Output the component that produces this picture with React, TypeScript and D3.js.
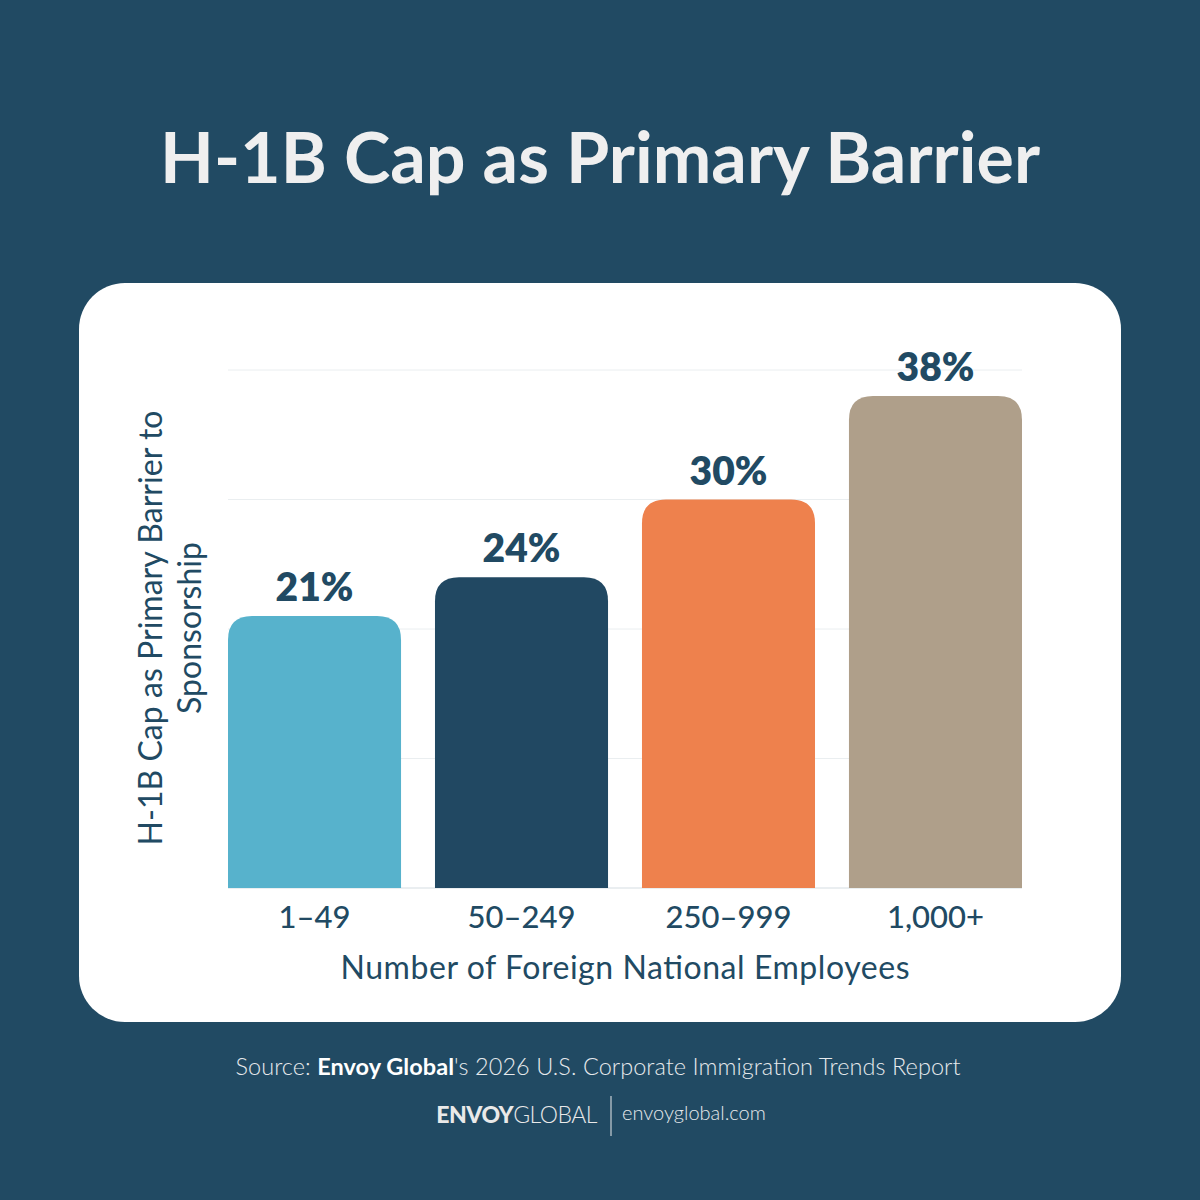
import React from "react";
import * as d3 from "d3";

const categories = ["1–49", "50–249", "250–999", "1,000+"];
const values = [21, 24, 30, 38];
const barColors = ["#57b2cc", "#214862", "#ee814d", "#af9f8a"];
const yTicks = [0, 10, 20, 30, 40];

const W = 1200;
const H = 1200;
const BG = "#214a63";
const NAVY = "#214a63";
const FONT = "Lato, 'Open Sans', sans-serif";

const plot = { left: 228, right: 1022, top: 370, bottom: 888 };

function topRoundedBar(x: number, y: number, w: number, h: number, r: number) {
  const rr = Math.min(r, h, w / 2);
  return `M${x},${y + h}V${y + rr}Q${x},${y} ${x + rr},${y}H${x + w - rr}Q${x + w},${y} ${x + w},${y + rr}V${y + h}Z`;
}

export default function App() {
  const x = d3
    .scaleBand<string>()
    .domain(categories)
    .range([plot.left, plot.right])
    .paddingInner(0.164)
    .paddingOuter(0);
  const y = d3.scaleLinear().domain([0, 40]).range([plot.bottom, plot.top]);

  return (
    <svg width={W} height={H} style={{ display: "block", position: "absolute", left: 0, top: 0 }}>
      <rect x={0} y={0} width={W} height={H} fill={BG} />
      <text
        x={600}
        y={183}
        textAnchor="middle"
        fontFamily={FONT}
        fontWeight={700}
        fontSize={70}
        fill="#efefef"
        textLength={880}
        lengthAdjust="spacing"
      >
        H-1B Cap as Primary Barrier
      </text>

      <rect x={79} y={283} width={1042} height={739} rx={46} ry={46} fill="#ffffff" />

      {yTicks.map((t) => (
        <line
          key={t}
          x1={plot.left}
          x2={plot.right}
          y1={y(t)}
          y2={y(t)}
          stroke={t === 0 ? "#d5dde2" : "#eaeef0"}
          strokeWidth={1}
        />
      ))}

      {categories.map((c, i) => {
        const bx = x(c)!;
        const by = y(values[i]);
        const bw = x.bandwidth();
        return (
          <g key={c}>
            <path d={topRoundedBar(bx, by, bw, plot.bottom - by, 24)} fill={barColors[i]} />
            <text
              x={bx + bw / 2}
              y={by - 15}
              textAnchor="middle"
              fontFamily={FONT}
              fontWeight={800}
              fontSize={39}
              fill={NAVY}
            >
              {values[i]}%
            </text>
            <text
              x={bx + bw / 2}
              y={928}
              textAnchor="middle"
              fontFamily={FONT}
              fontWeight={500}
              fontSize={31}
              fill={NAVY}
            >
              {c}
            </text>
          </g>
        );
      })}

      <text
        x={(plot.left + plot.right) / 2}
        y={979}
        textAnchor="middle"
        fontFamily={FONT}
        fontWeight={400}
        fontSize={32}
        fill={NAVY}
        textLength={569}
        lengthAdjust="spacing"
      >
        Number of Foreign National Employees
      </text>

      <g transform="translate(0,628) rotate(-90)" fontFamily={FONT} fontSize={32} fill={NAVY} textAnchor="middle">
        <text x={0} y={162} textLength={435} lengthAdjust="spacing">H-1B Cap as Primary Barrier to</text>
        <text x={0} y={201}>Sponsorship</text>
      </g>

      <text
        x={598}
        y={1075}
        textAnchor="middle"
        fontFamily={FONT}
        fontSize={23.5}
        fontWeight={300}
        fill="#e6e9ec"
        textLength={725}
        lengthAdjust="spacing"
      >
        Source: <tspan fontWeight={700} fill="#ffffff">Envoy Global</tspan>'s 2026 U.S. Corporate Immigration Trends Report
      </text>

      <text x={597} y={1123} textAnchor="end" fontFamily={FONT} fontSize={23} fill="#e9e9e9" letterSpacing={-0.5}>
        <tspan fontWeight={900}>ENVOY</tspan>
        <tspan fontWeight={300}>GLOBAL</tspan>
      </text>
      <line x1={611} x2={611} y1={1096} y2={1136} stroke="#c9d0d6" strokeWidth={1.2} />
      <text x={622} y={1120} fontFamily={FONT} fontSize={20} fontWeight={300} fill="#e6e9ec">
        envoyglobal.com
      </text>
    </svg>
  );
}
